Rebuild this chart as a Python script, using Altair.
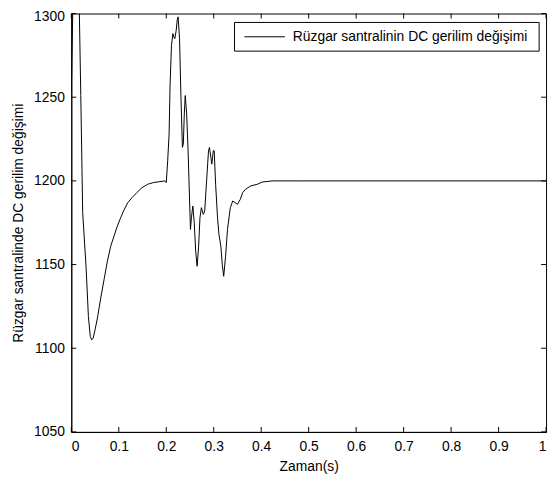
import altair as alt
import pandas as pd

# Time (s) and DC voltage
t_vals = [0.000, 0.003, 0.006, 0.010, 0.014, 0.017, 0.020, 0.024, 0.031, 0.036,
          0.040, 0.043, 0.046, 0.050, 0.055, 0.062, 0.069, 0.076, 0.083, 0.090,
          0.097, 0.104, 0.110, 0.119, 0.128, 0.138, 0.149, 0.161, 0.173, 0.185,
          0.197, 0.200, 0.203, 0.206, 0.208, 0.211, 0.214, 0.216, 0.218, 0.221,
          0.223, 0.225, 0.228, 0.231, 0.234, 0.236, 0.238, 0.240, 0.243, 0.246,
          0.251, 0.253, 0.256, 0.259, 0.262, 0.265, 0.268, 0.271, 0.274, 0.278,
          0.281, 0.285, 0.289, 0.291, 0.294, 0.296, 0.299, 0.301, 0.304, 0.308,
          0.311, 0.315, 0.318, 0.321, 0.325, 0.329, 0.335, 0.340, 0.345, 0.350,
          0.356, 0.361, 0.367, 0.378, 0.392, 0.402, 0.423, 0.475, 1.000]
v_vals = [1253, 1300, 1340, 1360, 1340, 1300, 1251, 1181, 1149, 1119,
          1107, 1105, 1106, 1111, 1118, 1130, 1141, 1152, 1161, 1167,
          1173, 1178, 1182, 1187, 1190, 1193, 1196, 1198, 1199, 1199.5,
          1200, 1199, 1212, 1228, 1257, 1281, 1288, 1286, 1285, 1290,
          1296, 1298, 1285, 1250, 1220, 1222, 1240, 1251, 1240, 1218,
          1171, 1178, 1185, 1175, 1158, 1149, 1160, 1178, 1184, 1180,
          1182, 1200, 1218, 1220, 1214, 1210, 1218, 1218, 1198, 1178,
          1168, 1161, 1150, 1143, 1155, 1171, 1184, 1188, 1187, 1186,
          1189, 1193, 1195, 1197, 1198, 1199.3, 1200, 1200, 1200]

x_ticks = [0, 0.1, 0.2, 0.3, 0.4, 0.5, 0.6, 0.7, 0.8, 0.9, 1]
y_ticks = [1050, 1100, 1150, 1200, 1250, 1300]
series_name = "Rüzgar santralinin DC gerilim değişimi"
x_title = "Zaman(s)"
y_title = "Rüzgar santralinde DC gerilim değişimi"

W, H = 480, 423
FONT = "Liberation Sans"
FS = 14

df = pd.DataFrame({"t": t_vals, "v": v_vals})
dx = pd.DataFrame({"t": x_ticks})
dy = pd.DataFrame({"v": y_ticks})
dleg = pd.DataFrame({"label": [series_name]})

xs = alt.Scale(domain=[0, 1], nice=False, zero=False)
ys = alt.Scale(domain=[1050, 1300], nice=False, zero=False)

axis_style = dict(ticks=False, grid=False, domainColor="black", domainWidth=1,
                  labelColor="black", titleColor="black", labelFont=FONT,
                  titleFont=FONT, labelFontSize=FS, titleFontSize=FS,
                  titleFontWeight="normal")

line = alt.Chart(df).mark_line(color="black", strokeWidth=1, clip=True).encode(
    x=alt.X("t:Q", scale=xs, title=x_title,
            axis=alt.Axis(values=x_ticks, format="~g", labelPadding=8,
                          titlePadding=6, **axis_style)),
    y=alt.Y("v:Q", scale=ys, title=y_title,
            axis=alt.Axis(values=y_ticks, format="d", labelPadding=7,
                          titlePadding=8,
                          labelOffset={"condition": {"test": "datum.value == 1300", "value": 3},
                                       "value": 0},
                          **axis_style)),
)

tick_style = dict(color="black", strokeWidth=1)
bt = alt.Chart(dx).mark_rule(**tick_style).encode(
    x=alt.X("t:Q", scale=xs), y=alt.value(H), y2=alt.value(H - 5))
tt = alt.Chart(dx).mark_rule(**tick_style).encode(
    x=alt.X("t:Q", scale=xs), y=alt.value(0), y2=alt.value(5))
lt = alt.Chart(dy).mark_rule(**tick_style).encode(
    y=alt.Y("v:Q", scale=ys), x=alt.value(0), x2=alt.value(5))
rt = alt.Chart(dy).mark_rule(**tick_style).encode(
    y=alt.Y("v:Q", scale=ys), x=alt.value(W - 5), x2=alt.value(W))

# legend box drawn in the top-right corner of the plot
leg_box = alt.Chart(dleg).mark_rect(fill="white", stroke="black", strokeWidth=1).encode(
    x=alt.value(165), x2=alt.value(473), y=alt.value(9), y2=alt.value(38))
leg_sym = alt.Chart(dleg).mark_rule(color="black", strokeWidth=1).encode(
    x=alt.value(175), x2=alt.value(216), y=alt.value(23.5))
leg_txt = alt.Chart(dleg).mark_text(align="left", baseline="middle", font=FONT,
                                    fontSize=FS, color="black").encode(
    x=alt.value(224), y=alt.value(24), text="label:N")

chart = alt.layer(line, bt, tt, lt, rt, leg_box, leg_sym, leg_txt).properties(
    width=W, height=H,
    autosize=alt.AutoSizeParams(type="none"),
    padding={"left": 64, "top": 3, "right": 5, "bottom": 45},
    background="white",
).configure_view(stroke="black", strokeWidth=1)

chart.save("out.html", embed_options={"renderer": "svg", "actions": False})
